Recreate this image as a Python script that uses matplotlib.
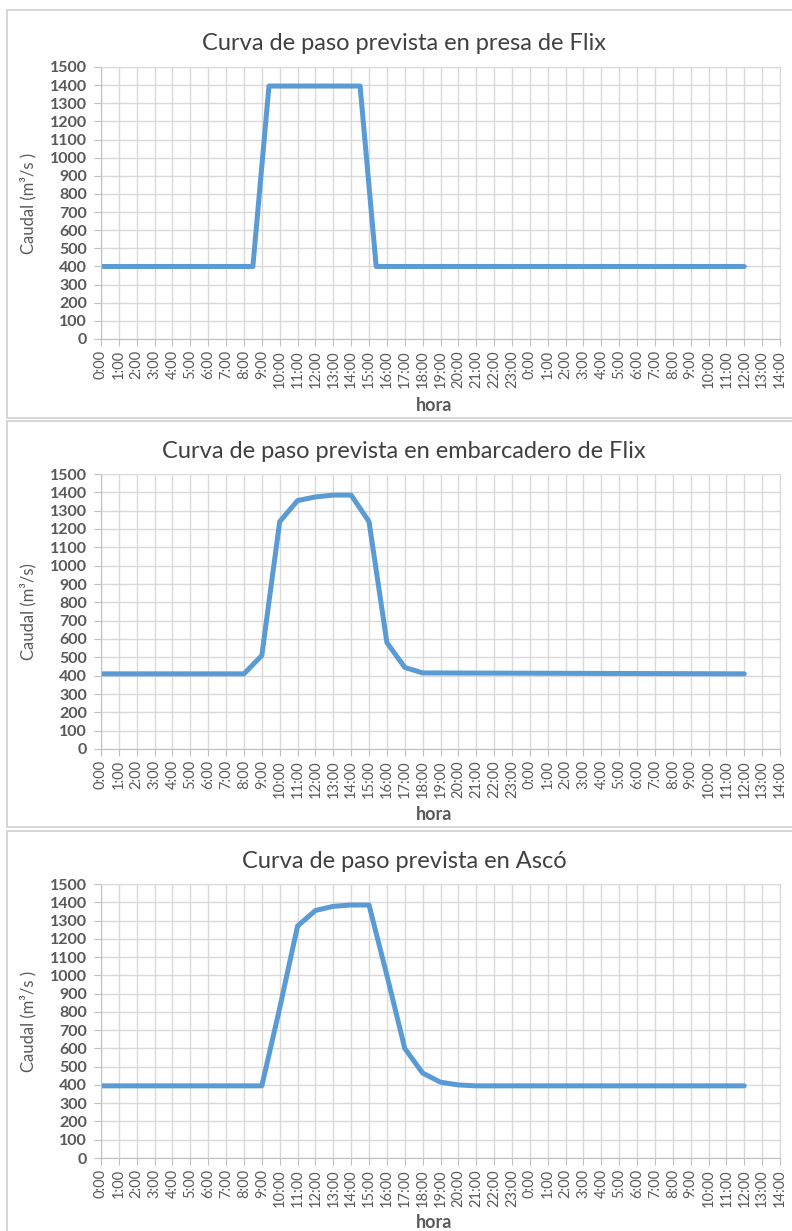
import matplotlib.pyplot as plt
from matplotlib.patches import Rectangle

# hours since 0:00 of day 1 (ticks go to 38 h = 14:00 next day)
hours_presa = [0, 8.5, 9.4, 14.5, 15.4, 36]
caudal_presa = [400, 400, 1395, 1395, 400, 400]

hours_emb = [0, 8, 9, 10, 11, 12, 13, 14, 15, 16, 17, 18, 36]
caudal_emb = [410, 410, 510, 1240, 1355, 1375, 1385, 1385, 1240, 580, 445, 415, 410]

hours_asco = [0, 9, 10, 11, 12, 13, 14, 15, 16, 17, 18, 19, 20, 21, 36]
caudal_asco = [395, 395, 820, 1270, 1355, 1378, 1385, 1385, 1000, 600, 465, 415, 400, 395, 395]

titles = ['Curva de paso prevista en presa de Flix',
          'Curva de paso prevista en embarcadero de Flix',
          'Curva de paso prevista en Ascó']
ylabels = ['Caudal (m³/s )', 'Caudal (m³/s)', 'Caudal (m³/s )']

tick_hours = list(range(0, 39))
tick_labels = ['%d:00' % (h % 24) for h in tick_hours]
y_ticks = list(range(0, 1600, 100))

W, H = 792, 1231
fig = plt.figure(figsize=(W / 100, H / 100), dpi=100)
plt.rcParams['font.family'] = ['Lato', 'DejaVu Sans']

txt = '#595959'
grid = '#d9d9d9'
blue = '#5b9bd5'

# panel layout in pixels: (box top, box bottom, plot top, plot bottom, title y, hora y)
panels = [(10, 418, 67, 339, 44, 405),
          (421, 827, 474, 749, 452, 815),
          (831, 1240, 884, 1158, 862, 1222)]
series = [(hours_presa, caudal_presa), (hours_emb, caudal_emb), (hours_asco, caudal_asco)]

left, right = 101, 780
for i, (bt, bb, pt, pb, ty, hy) in enumerate(panels):
    fig.patches.append(Rectangle((7 / W, 1 - bb / H), (W - 6) / W, (bb - bt) / H,
                                 transform=fig.transFigure, fill=False,
                                 edgecolor='#d0d0d0', lw=1.2))
    ax = fig.add_axes([left / W, 1 - pb / H, (right - left) / W, (pb - pt) / H])
    x, y = series[i]
    ax.plot(x, y, color=blue, lw=3.6, solid_joinstyle='round', solid_capstyle='round')
    ax.set_xlim(0, 38)
    ax.set_ylim(0, 1500)
    ax.set_xticks(tick_hours)
    ax.set_xticklabels(tick_labels, rotation=90, fontsize=10.5, color=txt)
    ax.set_yticks(y_ticks)
    ax.set_yticklabels([str(v) for v in y_ticks], fontsize=11.5, color=txt,
                       fontweight='bold')
    ax.grid(True, color=grid, lw=1)
    ax.set_axisbelow(True)
    ax.tick_params(axis='both', color='#bfbfbf', length=5, pad=3)
    ax.tick_params(axis='y', pad=5)
    for s in ['top', 'right']:
        ax.spines[s].set_color(grid)
    for s in ['left', 'bottom']:
        ax.spines[s].set_color('#bfbfbf')
    ax.set_ylabel(ylabels[i], fontsize=12, color=txt)
    ax.yaxis.set_label_coords(-(left - 36) / (right - left), 0.5)
    fig.text(404 / W, 1 - ty / H, titles[i], ha='center',
             va='center', fontsize=17, color='#404040')
    fig.text(434 / W, 1 - hy / H, 'hora', ha='center', va='center',
             fontsize=13, color=txt, fontweight='bold')

fig.savefig('out.png', dpi=100)
